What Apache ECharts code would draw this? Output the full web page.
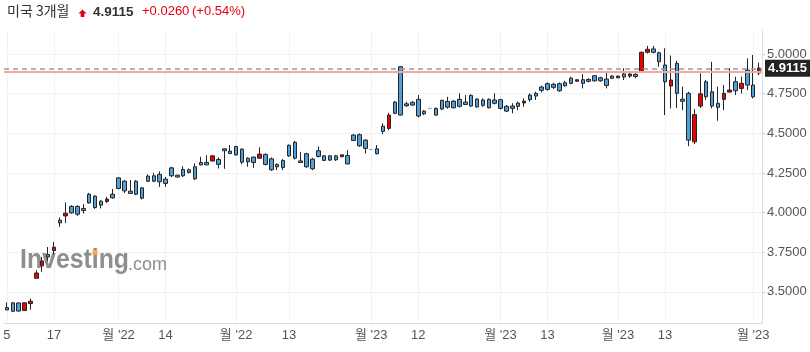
<!DOCTYPE html>
<html>
<head>
<meta charset="utf-8">
<script src="https://cdn.jsdelivr.net/npm/echarts@6/dist/echarts.min.js"></script>
<style>
  html, body { margin: 0; padding: 0; background: #fff; }
  #chart { width: 810px; height: 352px; }
</style>
</head>
<body>
<div id="chart"></div>
<script>
// daily candles, [open, close, low, high]
const ohlc = [
  [3.401, 3.386, 3.384, 3.434], [3.431, 3.378, 3.372, 3.434], [3.430, 3.379, 3.376, 3.433], [3.382, 3.431, 3.380, 3.433],
  [3.426, 3.441, 3.388, 3.458], [3.586, 3.619, 3.584, 3.636], [3.664, 3.695, 3.626, 3.720], [3.736, 3.720, 3.695, 3.783],
  [3.761, 3.782, 3.737, 3.815], [3.952, 3.935, 3.910, 3.969], [3.979, 3.996, 3.935, 4.064], [4.039, 3.998, 3.994, 4.047],
  [4.039, 3.990, 3.979, 4.047], [4.026, 4.013, 3.994, 4.053], [4.116, 4.061, 4.057, 4.124], [4.104, 4.032, 4.023, 4.110],
  [4.072, 4.047, 4.026, 4.078], [4.070, 4.085, 4.061, 4.099], [4.116, 4.093, 4.087, 4.149], [4.219, 4.152, 4.146, 4.225],
  [4.198, 4.137, 4.124, 4.205], [4.135, 4.121, 4.118, 4.205], [4.198, 4.116, 4.110, 4.205], [4.156, 4.091, 4.083, 4.162],
  [4.230, 4.198, 4.192, 4.241], [4.232, 4.198, 4.192, 4.251], [4.241, 4.194, 4.162, 4.260], [4.211, 4.184, 4.162, 4.225],
  [4.282, 4.232, 4.225, 4.289], [4.236, 4.224, 4.222, 4.238], [4.272, 4.232, 4.225, 4.293], [4.270, 4.253, 4.247, 4.278],
  [4.289, 4.213, 4.205, 4.310], [4.316, 4.301, 4.297, 4.352], [4.316, 4.301, 4.299, 4.362], [4.325, 4.358, 4.323, 4.362],
  [4.335, 4.304, 4.278, 4.348], [4.402, 4.390, 4.276, 4.405], [4.388, 4.373, 4.369, 4.426], [4.417, 4.364, 4.358, 4.421],
  [4.400, 4.318, 4.304, 4.405], [4.343, 4.320, 4.289, 4.348], [4.350, 4.316, 4.282, 4.352], [4.343, 4.369, 4.339, 4.411],
  [4.367, 4.304, 4.297, 4.373], [4.339, 4.270, 4.263, 4.348], [4.304, 4.289, 4.268, 4.310], [4.329, 4.285, 4.268, 4.337],
  [4.424, 4.358, 4.352, 4.430], [4.443, 4.343, 4.335, 4.451], [4.326, 4.316, 4.314, 4.383], [4.371, 4.289, 4.282, 4.377],
  [4.337, 4.276, 4.268, 4.345], [4.390, 4.354, 4.348, 4.417], [4.358, 4.329, 4.325, 4.362], [4.358, 4.331, 4.325, 4.362],
  [4.358, 4.333, 4.325, 4.364], [4.352, 4.364, 4.350, 4.366], [4.360, 4.307, 4.304, 4.394], [4.489, 4.455, 4.451, 4.495],
  [4.491, 4.421, 4.415, 4.499], [4.457, 4.405, 4.373, 4.463], [4.398, 4.398, 4.398, 4.398], [4.402, 4.371, 4.367, 4.426],
  [4.545, 4.512, 4.495, 4.563], [4.531, 4.615, 4.520, 4.629], [4.697, 4.626, 4.621, 4.703], [4.920, 4.615, 4.613, 4.924],
  [4.686, 4.674, 4.667, 4.699], [4.695, 4.678, 4.674, 4.703], [4.714, 4.609, 4.600, 4.741], [4.640, 4.623, 4.615, 4.646],
  [4.657, 4.657, 4.657, 4.657], [4.657, 4.615, 4.610, 4.663], [4.708, 4.653, 4.646, 4.712], [4.701, 4.665, 4.655, 4.730],
  [4.703, 4.661, 4.657, 4.710], [4.714, 4.670, 4.663, 4.752], [4.697, 4.682, 4.678, 4.741], [4.739, 4.672, 4.667, 4.746],
  [4.716, 4.667, 4.661, 4.720], [4.710, 4.676, 4.667, 4.720], [4.714, 4.661, 4.657, 4.720], [4.710, 4.689, 4.682, 4.752],
  [4.712, 4.657, 4.651, 4.718], [4.670, 4.640, 4.634, 4.678], [4.672, 4.657, 4.626, 4.689], [4.691, 4.670, 4.646, 4.699],
  [4.691, 4.703, 4.667, 4.720], [4.741, 4.712, 4.699, 4.752], [4.752, 4.735, 4.710, 4.762], [4.792, 4.771, 4.758, 4.800],
  [4.813, 4.777, 4.768, 4.821], [4.809, 4.790, 4.779, 4.819], [4.813, 4.768, 4.762, 4.821], [4.819, 4.800, 4.794, 4.831],
  [4.848, 4.815, 4.809, 4.857], [4.828, 4.838, 4.826, 4.840], [4.838, 4.815, 4.783, 4.874], [4.840, 4.828, 4.821, 4.847],
  [4.863, 4.831, 4.825, 4.867], [4.850, 4.831, 4.825, 4.857], [4.842, 4.802, 4.783, 4.893], [4.861, 4.847, 4.842, 4.867],
  [4.850, 4.861, 4.848, 4.863], [4.874, 4.855, 4.836, 4.910], [4.861, 4.874, 4.850, 4.878], [4.872, 4.859, 4.847, 4.878],
  [4.888, 5.011, 4.888, 5.015], [5.011, 5.030, 5.004, 5.051], [5.032, 5.011, 5.004, 5.051], [5.008, 4.951, 4.920, 5.015],
  [4.931, 4.825, 4.615, 5.036], [4.798, 4.836, 4.657, 4.990], [4.941, 4.752, 4.659, 4.957], [4.715, 4.702, 4.646, 4.794],
  [4.752, 4.457, 4.419, 4.762], [4.446, 4.618, 4.432, 4.653], [4.672, 4.749, 4.659, 4.878], [4.825, 4.730, 4.710, 4.836],
  [4.762, 4.672, 4.657, 4.951], [4.689, 4.664, 4.579, 4.794], [4.714, 4.752, 4.646, 4.804], [4.760, 4.773, 4.760, 4.910],
  [4.825, 4.768, 4.741, 4.857], [4.783, 4.815, 4.752, 4.857], [4.899, 4.804, 4.773, 4.973], [4.804, 4.730, 4.720, 4.994],
  [4.880, 4.9115, 4.867, 4.945]
]

const tickIndex = [0, 8, 19, 27, 39, 48, 62, 70, 84, 92, 104, 112, 127]
const tickText = ['5', '17', "월 '22", '14', "월 '22", '13', "월 '23", '12', "월 '23", '13', "월 '23", '13', "월 '23"]
const yTicks = [3.5, 3.75, 4.0, 4.25, 4.5, 4.75, 5.0]

const lastPrice = 4.9115
const prevClose = 4.8855
const change = '+0.0260'
const changePct = '(+0.54%)'

const yMin = 3.3037
const yMax = 5.1515

const upColor = '#ee0000'
const downColor = '#4da0dc'
const axisFont = '"Liberation Sans Narrow", "Arial Narrow", Arial, "Noto Sans CJK KR", sans-serif'

const days = ohlc.map((d, i) => String(i))
const isTick = (i) => tickIndex.indexOf(i) >= 0

const chart = echarts.init(document.getElementById('chart'))

const option = {
  animation: false,
  grid: { left: 4, right: 48, top: 30, bottom: 29 },
  xAxis: {
    type: 'category',
    data: days,
    boundaryGap: true,
    axisLine: { lineStyle: { color: '#dedede' } },
    axisTick: { alignWithLabel: true, interval: isTick, length: 4, lineStyle: { color: '#d0d0d0' } },
    axisLabel: {
      interval: isTick,
      formatter: (v, i) => tickText[tickIndex.indexOf(i)],
      color: '#555',
      fontSize: 13,
      fontFamily: axisFont,
      margin: 6
    },
    splitLine: { show: true, alignWithLabel: true, interval: isTick, lineStyle: { color: '#f2f2f2' } }
  },
  yAxis: {
    type: 'value',
    position: 'right',
    min: yMin,
    max: yMax,
    axisLine: { show: true, lineStyle: { color: '#dedede' } },
    axisTick: { show: true, length: 3, customValues: yTicks, lineStyle: { color: '#d0d0d0' } },
    axisLabel: {
      customValues: yTicks,
      formatter: (v) => v.toFixed(4),
      color: '#555',
      fontSize: 13,
      fontFamily: axisFont,
      margin: 5
    },
    splitLine: { lineStyle: { color: '#f2f2f2' } }
  },
  graphic: [
    // header
    { type: 'text', left: 7, top: 4, style: { text: '미국 3개월', font: '14px "Noto Sans CJK KR"', fill: '#333' } },
    {
      type: 'polygon',
      shape: { points: [[82.5, 9.5], [86.5, 13.5], [84.3, 13.5], [84.3, 17], [80.7, 17], [80.7, 13.5], [78.5, 13.5]] },
      style: { fill: '#e3000f' }
    },
    { type: 'text', left: 93, top: 5, style: { text: lastPrice.toFixed(4), font: 'bold 13.5px Arial', fill: '#333' } },
    { type: 'text', left: 142, top: 5, style: { text: change, font: '13px Arial', fill: '#e3000f' } },
    { type: 'text', left: 192, top: 5, style: { text: changePct, font: '13px Arial', fill: '#e3000f' } },
    // watermark
    {
      type: 'text', x: 20, y: 247, scaleX: 0.92, z: 1,
      style: { x: 0, y: 0, text: 'Investing', font: 'bold 27px Arial', verticalAlign: 'top', fill: 'rgba(130,130,130,0.9)' }
    },
    {
      type: 'text', x: 128, y: 256, z: 1,
      style: { x: 0, y: 0, text: '.com', font: '18px Arial', verticalAlign: 'top', fill: 'rgba(130,130,130,0.9)' }
    },
    { type: 'rect', z: 1, shape: { x: 92.5, y: 250, width: 5, height: 5 }, style: { fill: 'rgba(248,170,60,0.95)' } }
  ],
  series: [
    {
      type: 'candlestick',
      data: ohlc,
      barWidth: 4,
      z: 3,
      itemStyle: {
        color: upColor,
        color0: downColor,
        borderColor: '#252525',
        borderColor0: '#252525',
        borderColorDoji: '#999',
        borderWidth: 1
      },
      markLine: {
        silent: true,
        symbol: 'none',
        animation: false,
        data: [
          { yAxis: prevClose, lineStyle: { color: '#f6a5a5', type: 'solid', width: 2 }, label: { show: false } },
          {
            yAxis: lastPrice,
            lineStyle: { color: '#999', type: [5, 4], width: 1.5 },
            label: {
              show: true,
              position: 'end',
              distance: 3,
              formatter: lastPrice.toFixed(4),
              backgroundColor: '#222',
              color: '#fff',
              fontWeight: 'bold',
              fontSize: 13,
              fontFamily: axisFont,
              padding: [2, 3, 2, 3]
            }
          }
        ]
      }
    }
  ]
}

chart.setOption(option)
</script>
</body>
</html>
